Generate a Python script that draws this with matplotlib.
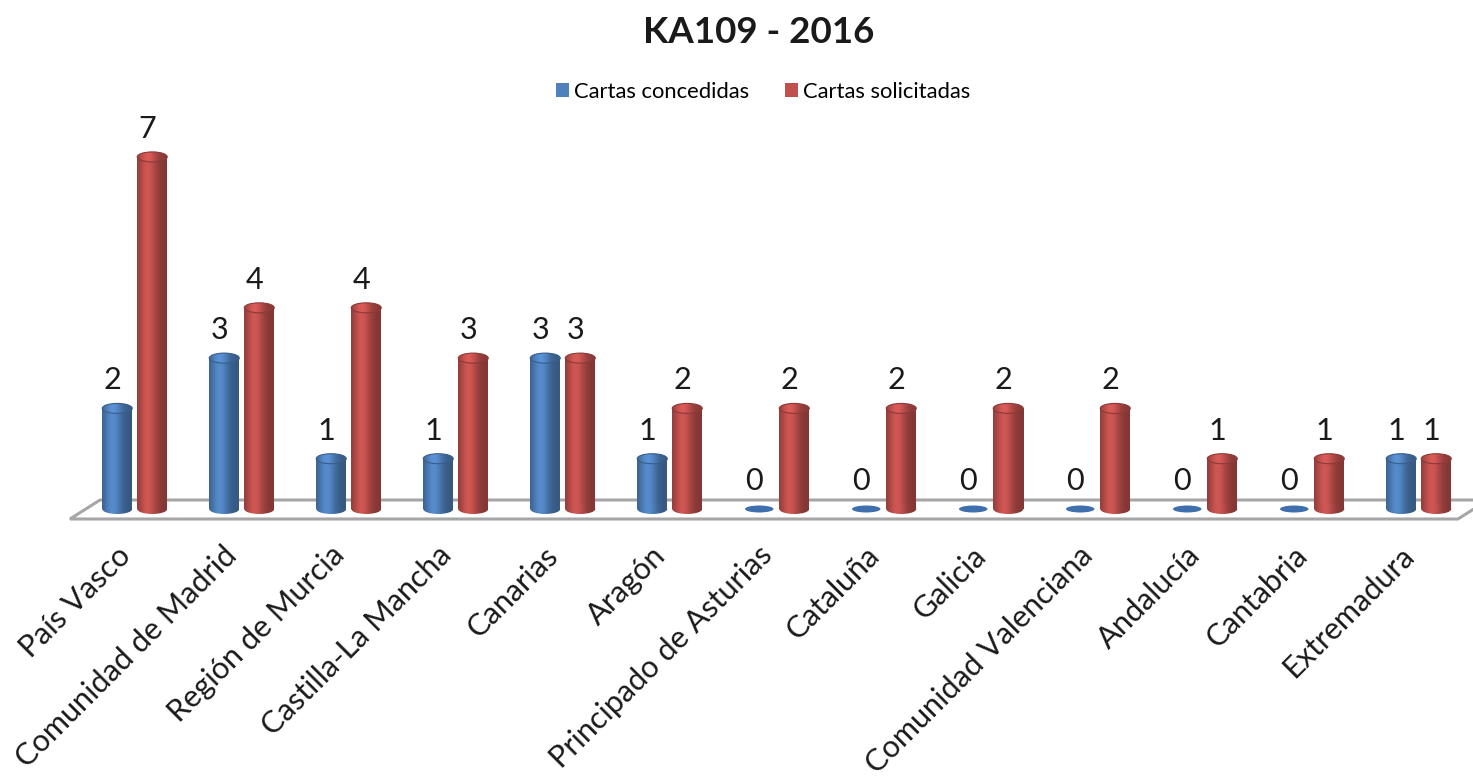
import numpy as np
import matplotlib
matplotlib.use("Agg")
import matplotlib.pyplot as plt
from matplotlib.patches import Ellipse, Patch, Polygon
from matplotlib.textpath import TextPath
from matplotlib.font_manager import FontProperties
from matplotlib.colors import to_rgb
import matplotlib.transforms as mtransforms

# ---------------- data ----------------
categories = ["País Vasco", "Comunidad de Madrid", "Región de Murcia",
              "Castilla-La Mancha", "Canarias", "Aragón",
              "Principado de Asturias", "Cataluña", "Galicia",
              "Comunidad Valenciana", "Andalucía", "Cantabria", "Extremadura"]
concedidas = [2, 3, 1, 1, 3, 1, 0, 0, 0, 0, 0, 0, 1]
solicitadas = [7, 4, 4, 3, 3, 2, 2, 2, 2, 2, 1, 1, 1]
series_names = ["Cartas concedidas", "Cartas solicitadas"]
title = "KA109 - 2016"

# ---------------- style / layout ----------------
W, H, DPI = 1473, 776, 100
FONT = "Lato"
BLUE = "#4F81BD"
RED = "#C0504D"
X0, DX = 134.75, 107.0      # px of first category centre, px per category
Y0, DY = 509.0, 50.3        # px of value 0, px per unit
AX_BOTTOM_PX = 530
BAR_W_PX = 30
OFF_PX = 17.5
ELL_PX = 10


def fit_width(text, target_px, weight="normal"):
    tp = TextPath((0, 0), text, size=100, prop=FontProperties(family=FONT, weight=weight))
    w = tp.get_extents().width
    return target_px * 100 * 72 / (w * DPI)


def fit_height(text, target_px, weight="normal"):
    tp = TextPath((0, 0), text, size=100, prop=FontProperties(family=FONT, weight=weight))
    h = tp.get_extents().height
    return target_px * 100 * 72 / (h * DPI)


tick_fs = fit_width("Comunidad de Madrid", 296)
label_fs = fit_height("7", 22)
title_fs = fit_width(title, 227, "bold")
legend_fs = fit_width("Cartas concedidas", 173)

plt.rcParams["font.family"] = [FONT, "DejaVu Sans"]

fig = plt.figure(figsize=(W / DPI, H / DPI), dpi=DPI)
ax = fig.add_axes([0, (H - AX_BOTTOM_PX) / H, 1, AX_BOTTOM_PX / H])
xlim = (-X0 / DX, (W - X0) / DX)
ylim = ((Y0 - AX_BOTTOM_PX) / DY, Y0 / DY)


def px2d(px, py):
    return ((px - X0) / DX, (Y0 - py) / DY)


# floor
floor_px = [(70, 519), (1458, 519), (1488, 500), (100, 500)]
floor = Polygon([px2d(*p) for p in floor_px], closed=True, facecolor="white",
                edgecolor="#a6a6a6", lw=2.2, zorder=1, clip_on=False)
ax.add_patch(floor)

bw = BAR_W_PX / DX
off = OFF_PX / DX
eh = ELL_PX / DY

t = np.linspace(0, 1, 64)
shade = 0.68 + 0.40 * np.exp(-((t - 0.36) / 0.30) ** 2)


def gradient(color, light=1.0):
    base = np.array(to_rgb(color))
    g = np.clip(base[None, :] * shade[:, None] * light, 0, 1)
    return g[None, :, :]


def cylinder(xc, v, color, z):
    grad = gradient(color)
    capgrad = gradient(color, 1.05)
    edge = tuple(np.array(to_rgb(color)) * 0.72)
    x_left, x_right = xc - bw / 2, xc + bw / 2
    if v > 0:
        rect = ax.bar(xc, v, width=bw, bottom=0, color="none", edgecolor="none", zorder=z)[0]
        im = ax.imshow(grad, extent=[x_left, x_right, 0, v], aspect="auto",
                       interpolation="bilinear", zorder=z)
        im.set_clip_path(rect)
        bot = Ellipse((xc, 0), bw, eh, facecolor="none", edgecolor="none", zorder=z)
        ax.add_patch(bot)
        im2 = ax.imshow(grad, extent=[x_left, x_right, -eh / 2, eh / 2], aspect="auto",
                        interpolation="bilinear", zorder=z)
        im2.set_clip_path(bot)
        top = Ellipse((xc, v), bw, eh, facecolor="none", edgecolor="none", zorder=z + 0.1)
        ax.add_patch(top)
        im3 = ax.imshow(capgrad, extent=[x_left, x_right, v - eh / 2, v + eh / 2], aspect="auto",
                        interpolation="bilinear", zorder=z + 0.1)
        im3.set_clip_path(top)
        ax.add_patch(Ellipse((xc, v), bw, eh, facecolor="none", edgecolor=edge,
                             lw=0.8, zorder=z + 0.2))
    else:
        ax.bar(xc, 0, width=bw, color="none", edgecolor="none", zorder=z)
        ax.add_patch(Ellipse((xc, 0), bw * 0.95, eh * 0.7, facecolor="#3f6fad",
                             edgecolor="none", zorder=z))
    ax.annotate(str(v), xy=(xc, v), xytext=(-5, ELL_PX / 2 + 14),
                textcoords="offset pixels", ha="center", va="baseline",
                fontsize=label_fs, color="#1a1a1a", zorder=z + 1)


for i in range(len(categories)):
    cylinder(i - off, concedidas[i], BLUE, 3)
    cylinder(i + off, solicitadas[i], RED, 3)

ax.set_xlim(*xlim)
ax.set_ylim(*ylim)
for s in ax.spines.values():
    s.set_visible(False)
ax.set_yticks([])
ax.set_xticks(range(len(categories)))
ax.set_xticklabels(categories, rotation=45, ha="right", rotation_mode="anchor",
                   fontsize=tick_fs, color="#1a1a1a")
ax.tick_params(axis="x", length=0, pad=11 * 72 / DPI)
shift = mtransforms.ScaledTranslation(-19 / DPI, 0, fig.dpi_scale_trans)
for lab in ax.get_xticklabels():
    lab.set_transform(lab.get_transform() + shift)
ax.patch.set_alpha(0)

fig.text(758.5 / W, 1 - 43 / H, title, ha="center", va="baseline",
         fontsize=title_fs, fontweight="bold", color="#1a1a1a")

fs_px = legend_fs * DPI / 72
handles = [Patch(facecolor=BLUE, edgecolor="none"), Patch(facecolor=RED, edgecolor="none")]
fig.legend(handles, series_names, loc="center", bbox_to_anchor=(763 / W, 1 - 92 / H),
           ncol=2, frameon=False, fontsize=legend_fs,
           handlelength=13 / fs_px, handleheight=13 / fs_px,
           handletextpad=5 / fs_px, columnspacing=36 / fs_px, borderpad=0, borderaxespad=0)

fig.savefig("out.png", dpi=DPI)
